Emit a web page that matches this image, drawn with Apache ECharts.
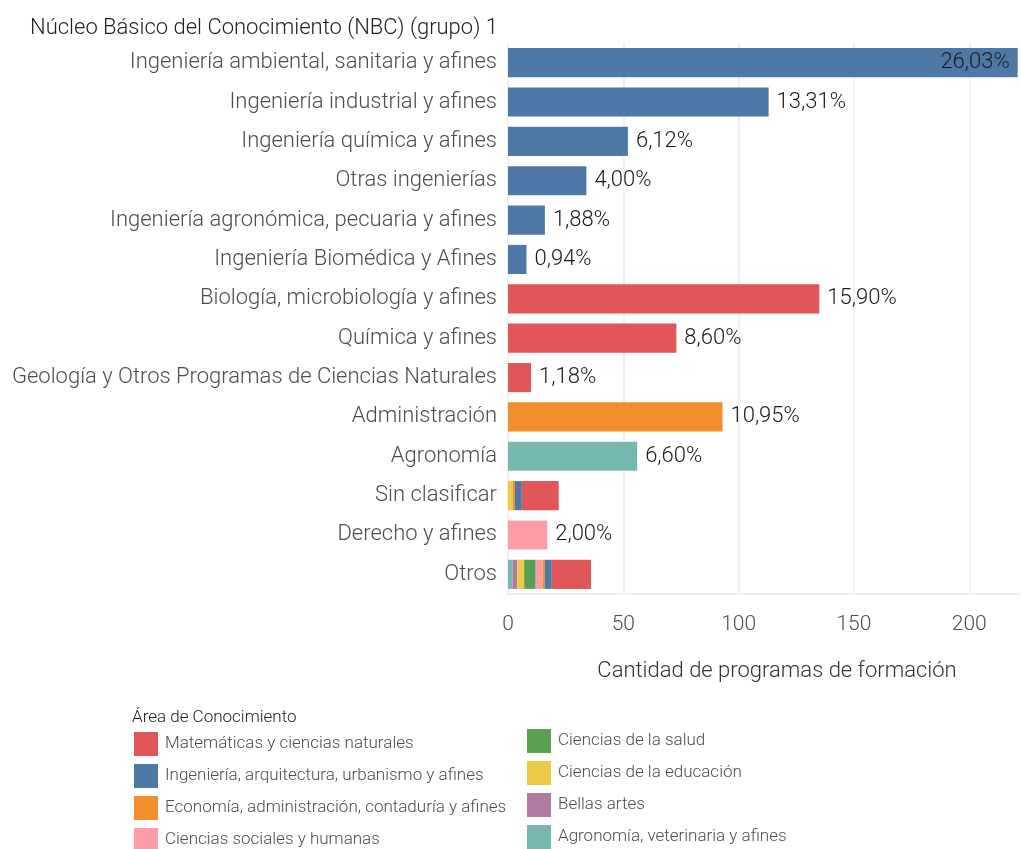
<!DOCTYPE html>
<html>
<head>
<meta charset="utf-8">
<script src="https://cdn.jsdelivr.net/npm/echarts@6/dist/echarts.min.js"></script>
<style>
html, body { margin: 0; padding: 0; background: #fff; }
#chart { width: 1021px; height: 849px; }
</style>
</head>
<body>
<div id="chart"></div>
<script>
// categorías (de arriba a abajo)
const categories = [
  'Ingeniería ambiental, sanitaria y afines',
  'Ingeniería industrial y afines',
  'Ingeniería química y afines',
  'Otras ingenierías',
  'Ingeniería agronómica, pecuaria y afines',
  'Ingeniería Biomédica y Afines',
  'Biología, microbiología y afines',
  'Química y afines',
  'Geología y Otros Programas de Ciencias Naturales',
  'Administración',
  'Agronomía',
  'Sin clasificar',
  'Derecho y afines',
  'Otros'
]

// cantidad de programas por área de conocimiento
const matematicas = [0, 0, 0, 0, 0, 0, 135, 73, 10, 0, 0, 16, 0, 17]
const ingenieria  = [221, 113, 52, 34, 16, 8, 0, 0, 0, 0, 0, 3, 0, 3]
const economia    = [0, 0, 0, 0, 0, 0, 0, 0, 0, 93, 0, 1, 0, 1]
const sociales    = [0, 0, 0, 0, 0, 0, 0, 0, 0, 0, 0, 0, 17, 3]
const salud       = [0, 0, 0, 0, 0, 0, 0, 0, 0, 0, 0, 0, 0, 5]
const educacion   = [0, 0, 0, 0, 0, 0, 0, 0, 0, 0, 0, 2, 0, 3]
const bellas      = [0, 0, 0, 0, 0, 0, 0, 0, 0, 0, 0, 0, 0, 2]
const agronomia   = [0, 0, 0, 0, 0, 0, 0, 0, 0, 0, 56, 0, 0, 2]

// etiquetas de porcentaje
const pctLabels = ['26,03%', '13,31%', '6,12%', '4,00%', '1,88%', '0,94%', '15,90%',
  '8,60%', '1,18%', '10,95%', '6,60%', '', '2,00%', '']

const xTicks = { min: 0, max: 222, interval: 50 }

const FONT = 'Roboto'

// orden de apilado (izquierda -> derecha)
const areas = [
  { name: 'Agronomía, veterinaria y afines', data: agronomia, color: '#76B7B2' },
  { name: 'Bellas artes', data: bellas, color: '#B07AA1' },
  { name: 'Ciencias de la educación', data: educacion, color: '#EDC948' },
  { name: 'Ciencias de la salud', data: salud, color: '#59A14F' },
  { name: 'Ciencias sociales y humanas', data: sociales, color: '#FF9DA7' },
  { name: 'Economía, administración, contaduría y afines', data: economia, color: '#F28E2B' },
  { name: 'Ingeniería, arquitectura, urbanismo y afines', data: ingenieria, color: '#4E79A7' },
  { name: 'Matemáticas y ciencias naturales', data: matematicas, color: '#E15759' }
]

const series = areas.map(a => ({
  name: a.name,
  type: 'bar',
  stack: 'total',
  barWidth: '74%',
  itemStyle: { color: a.color },
  data: a.data.map((v, i) => {
    const item = { value: v }
    const total = areas.reduce((s, b) => s + b.data[i], 0)
    if (pctLabels[i] && v > 0 && v === total) {
      item.label = {
        show: true,
        position: i === 0 ? 'insideRight' : 'right',
        distance: i === 0 ? 8 : 8,
        formatter: pctLabels[i],
        color: '#1a1a1a',
        fontFamily: FONT,
        fontWeight: 300,
        fontSize: 22,
        padding: [3, 0, 0, 0]
      }
    }
    return item
  })
}))

const legendText = { color: '#4D4D4D', fontFamily: FONT, fontWeight: 300, fontSize: 17, padding: [0, 0, 0, 2] }

const option = {
  animation: false,
  textStyle: { fontFamily: FONT },
  title: [
    {
      text: 'Núcleo Básico del Conocimiento (NBC) (grupo) 1',
      left: 25, top: 12,
      textStyle: { color: '#222', fontFamily: FONT, fontWeight: 300, fontSize: 22 }
    },
    {
      text: 'Área de Conocimiento',
      left: 127, top: 704,
      textStyle: { color: '#222', fontFamily: FONT, fontWeight: 300, fontSize: 17 }
    }
  ],
  legend: [
    {
      orient: 'vertical', left: 129, top: 727, height: 140,
      icon: 'rect', itemWidth: 24, itemHeight: 24, itemGap: 8,
      selectedMode: false,
      textStyle: legendText,
      data: ['Matemáticas y ciencias naturales', 'Ingeniería, arquitectura, urbanismo y afines',
        'Economía, administración, contaduría y afines', 'Ciencias sociales y humanas']
    },
    {
      orient: 'vertical', left: 522, top: 724, height: 140,
      icon: 'rect', itemWidth: 24, itemHeight: 24, itemGap: 8,
      selectedMode: false,
      textStyle: legendText,
      data: ['Ciencias de la salud', 'Ciencias de la educación', 'Bellas artes',
        'Agronomía, veterinaria y afines']
    }
  ],
  grid: { left: 508, right: 1, top: 43, bottom: 255, containLabel: false },
  xAxis: {
    type: 'value',
    min: xTicks.min, max: xTicks.max, interval: xTicks.interval,
    name: 'Cantidad de programas de formación',
    nameLocation: 'middle',
    nameGap: 66,
    nameTextStyle: { color: '#333', fontFamily: FONT, fontWeight: 300, fontSize: 22, padding: [0, 0, 0, 26] },
    axisLine: { show: true, lineStyle: { color: '#EBEBEB', width: 1.5 } },
    axisTick: { show: false },
    axisLabel: { color: '#4D4D4D', fontFamily: FONT, fontWeight: 300, fontSize: 21, margin: 20, showMaxLabel: false },
    splitLine: { show: true, showMaxLine: false, lineStyle: { color: '#EBEBEB', width: 1.5 } }
  },
  yAxis: {
    type: 'category',
    inverse: true,
    data: categories,
    axisLine: { show: false },
    axisTick: { show: false },
    axisLabel: { color: '#4D4D4D', fontFamily: FONT, fontWeight: 300, fontSize: 22, margin: 11, padding: [3, 0, 0, 0] },
    splitLine: { show: false }
  },
  series: series
}

const chart = echarts.init(document.getElementById('chart'))
chart.setOption(option)
</script>
</body>
</html>
